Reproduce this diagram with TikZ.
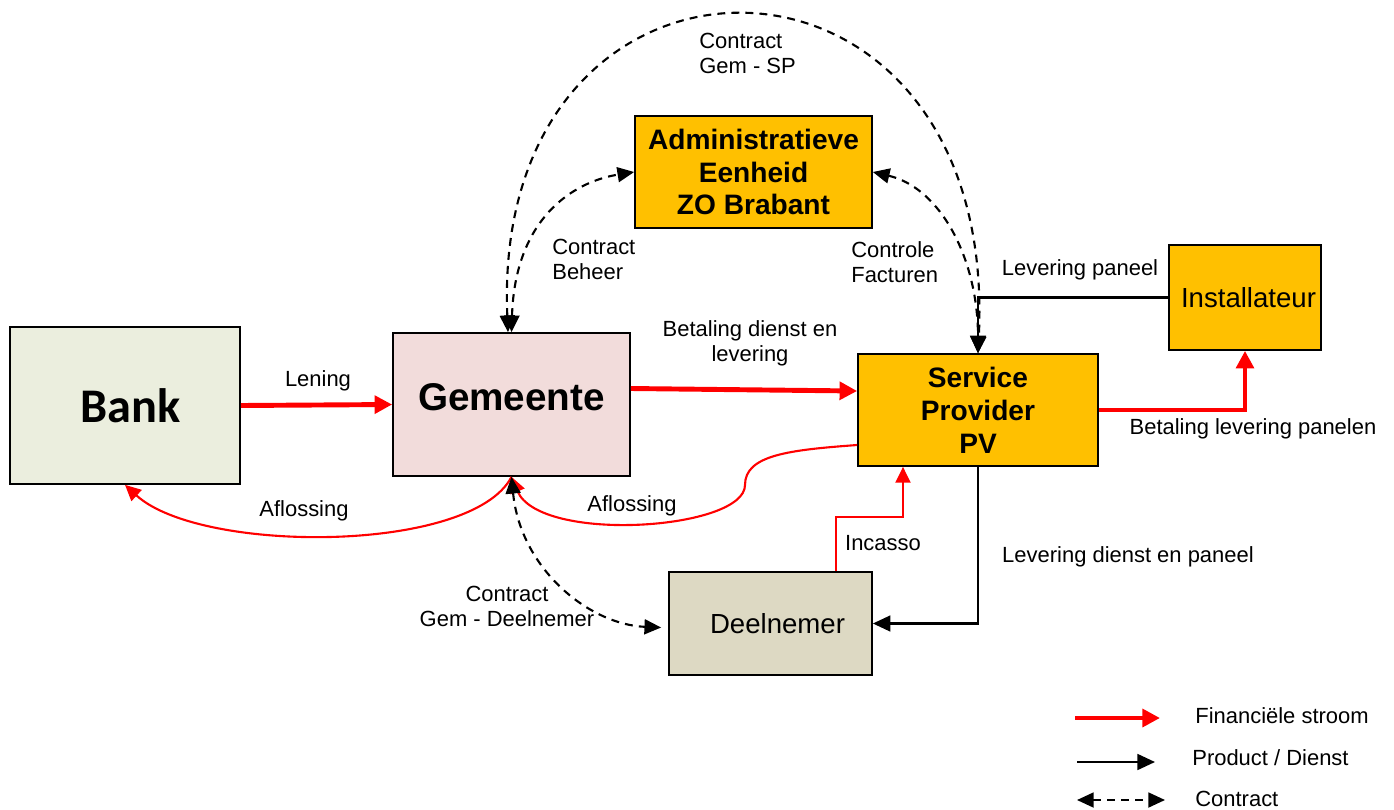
\documentclass[tikz,border=0pt]{standalone}
\usepackage{fontspec}
\setmainfont{Liberation Sans}
\newfontfamily\bankfont{Carlito}
\usetikzlibrary{arrows.meta,calc}
\definecolor{bankgreen}{HTML}{EBEEDE}
\definecolor{gempink}{HTML}{F2DCDB}
\definecolor{spgold}{HTML}{FFC000}
\definecolor{deelgrey}{HTML}{DDD9C3}
\tikzset{
  box/.style={draw=black,line width=1pt,inner sep=0pt,align=center},
  boldbox/.style={box,font=\bfseries\fontsize{16}{18.7}\selectfont},
  plainbox/.style={box,font=\fontsize{15.7}{18}\selectfont},
  lbl/.style={font=\fontsize{12.5}{14.2}\selectfont,align=center,inner sep=0pt},
  fin/.style={red,line width=2.8pt,-{Triangle[length=10pt,width=10pt]}},
  finthin/.style={red,line width=1.2pt,-{Triangle[length=9pt,width=8.5pt]}},
  prod/.style={black,line width=1.3pt,-{Triangle[length=10pt,width=9pt]}},
  contr/.style={black,line width=1.2pt,dash pattern=on 4.5pt off 3.5pt,
    {Triangle[length=9.5pt,width=8.5pt]}-{Triangle[length=9.5pt,width=8.5pt]}},
}
\begin{document}
\begin{tikzpicture}[x=0.02cm,y=-0.02cm]
    \useasboundingbox (0,0) rectangle (1394,809);
    \node[box,fill=bankgreen,minimum width=4.6cm,minimum height=3.14cm,font=\bankfont\bfseries\fontsize{27.5}{30}\selectfont] (bank) at (125,405.5) {\hspace*{6pt}Bank};
    \node[box,fill=gempink,minimum width=4.74cm,minimum height=2.86cm,font=\bfseries\fontsize{22}{26}\selectfont] (gem) at (511.5,404.5) {\raisebox{9pt}{Gemeente}};
    \node[boldbox,fill=spgold,minimum width=4.74cm,minimum height=2.24cm] (admin) at (753.5,172) {Administratieve\\Eenheid\\ZO Brabant};
    \node[boldbox,fill=spgold,minimum width=4.8cm,minimum height=2.24cm] (sp) at (978,410) {Service\\Provider\\PV};
    \node[plainbox,fill=spgold,minimum width=3.04cm,minimum height=2.1cm] (inst) at (1245,297.5) {\hspace*{4pt}Installateur};
    \node[plainbox,fill=deelgrey,minimum width=4.06cm,minimum height=2.06cm] (deel) at (770.5,623.5) {\hspace*{8pt}Deelnemer};
    \draw[fin] (bank.east) -- (gem.west);
    \draw[fin] ($(gem.east)+(0,-16)$) -- ($(sp.west)+(0,-19)$);
    \draw[fin] (sp.east) -| (inst.south);
    \draw[prod] (inst.west) -| (sp.north);
    \draw[prod] (sp.south) |- (deel.east);
    \draw[finthin] ($(deel.north)+(65.5,0)$) -- ++(0,-54) -| ($(sp.south)+(-75,0)$);
    \coordinate (afl) at (745,485);
    \draw[finthin] ($(sp.west)+(0,35)$) .. controls +(-68,5) and +(0,-30) .. (afl) .. controls +(0,45) and +(28,67) .. (gem.south);
    \draw[finthin] (gem.south) .. controls +(-40,77) and +(75,69) .. (bank.south);
    \draw[contr] (gem.south) .. controls +(9,92) and +(-72,-3) .. ($(deel.west)+(-7,4)$);
    \draw[contr] ($(gem.north)+(-3.5,0)$) .. controls +(-18,-424) and +(22,-445) .. (sp.north);
    \draw[contr] (gem.north) .. controls +(3.5,-113) and +(-62,10) .. (admin.west);
    \draw[contr] (admin.east) .. controls +(68,16) and +(0,-94) .. (sp.north);
    \node[lbl] (lening) at (318,381) {Lening};
    \node[lbl] (betdienst) at (750,343) {Betaling dienst en\\levering};
    \node[lbl] (afl1) at (304,511) {Aflossing};
    \node[lbl] (afl2) at (632,506) {Aflossing};
    \node[lbl,anchor=west,align=left] (beheer) at (552,259) {Contract\\Beheer};
    \node[lbl,anchor=west,align=left] (controle) at (851,262) {Controle\\Facturen};
    \node[lbl,anchor=west,align=left] (gemsp) at (699,53) {Contract\\Gem - SP};
    \node[lbl] (levpan) at (1080,270) {Levering paneel};
    \node[lbl] (betpan) at (1253,429) {Betaling levering panelen};
    \node[lbl] (incasso) at (883,543) {Incasso};
    \node[lbl] (levdienst) at (1128,557) {Levering dienst en paneel};
    \node[lbl] (gemdeel) at (507,606) {Contract\\Gem - Deelnemer};
    \coordinate (fina) at (1075,718);
    \coordinate (finb) at (1160,718);
    \coordinate (proda) at (1077,762);
    \coordinate (prodb) at (1155,762);
    \coordinate (contra) at (1077,800);
    \coordinate (contrb) at (1165,800);
    \draw[fin] (fina) -- (finb);
    \draw[prod] (proda) -- (prodb);
    \draw[contr] (contra) -- (contrb);
    \node[lbl,anchor=west] (finlbl) at (1195,716) {Financiële stroom};
    \node[lbl,anchor=west] (prodlbl) at (1192,758) {Product / Dienst};
    \node[lbl,anchor=west] (contrlbl) at (1195,799) {Contract};
\end{tikzpicture}
\end{document}
